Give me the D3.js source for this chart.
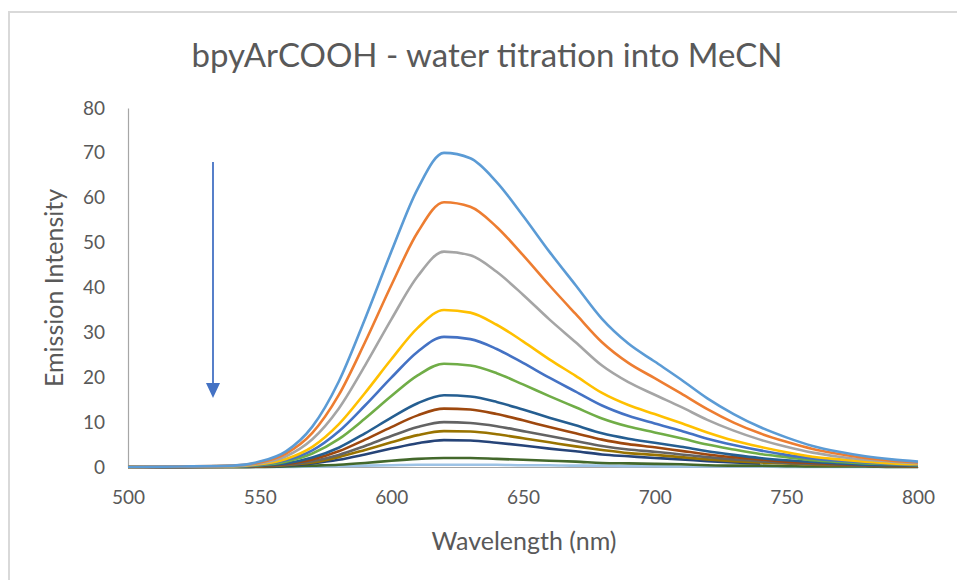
<!DOCTYPE html>
<html>
<head>
<meta charset="utf-8">
<script src="https://cdn.jsdelivr.net/npm/d3@7"></script>
<style>
  html, body { margin: 0; padding: 0; background: #fff; }
  svg { display: block; }
  text { font-family: Lato, "Open Sans", "Noto Sans", sans-serif; fill: #595959; }
</style>
</head>
<body>
<svg id="chart" width="957" height="580"></svg>
<script>
// Wavelength grid (nm) shared by all emission spectra
const wavelengths = [500, 520, 540, 550, 560, 570, 580, 590, 600, 610, 620, 630, 640, 650, 660,
  670, 680, 690, 700, 710, 720, 730, 740, 750, 760, 770, 780, 790, 800];

// Emission intensity of each titration point, first to last
const spec01 = [0, 0.1, 0.3, 1.2, 3.5, 9, 19, 33, 48, 62, 70, 68.8, 63.5, 56, 48, 40.5, 33, 27.5, 23.5, 19.5, 15.3, 11.8, 8.9, 6.6, 4.7, 3.4, 2.4, 1.7, 1.2];
const spec02 = [0, 0.1, 0.3, 1.0, 3.0, 7.6, 16, 27.8, 40.5, 52.3, 59, 58, 53.5, 47.2, 40.5, 34.1, 27.8, 23.2, 19.8, 16.4, 12.9, 9.9, 7.5, 5.6, 4.0, 2.9, 2.0, 1.4, 1.0];
const spec03 = [0, 0.1, 0.2, 0.8, 2.4, 6.2, 13, 22.6, 32.9, 42.5, 48, 47.2, 43.5, 38.4, 32.9, 27.8, 22.6, 18.9, 16.1, 13.4, 10.5, 8.1, 6.1, 4.5, 3.2, 2.3, 1.6, 1.2, 0.8];
const spec04 = [0, 0.1, 0.2, 0.6, 1.8, 4.5, 9.5, 16.5, 24, 31, 35, 34.4, 31.7, 28, 24, 20.3, 16.5, 13.8, 11.8, 9.8, 7.7, 5.9, 4.5, 3.3, 2.3, 1.7, 1.2, 0.8, 0.6];
const spec05 = [0, 0.1, 0.2, 0.5, 1.5, 3.7, 7.9, 13.7, 19.9, 25.7, 29, 28.5, 26.3, 23.2, 19.9, 16.8, 13.7, 11.4, 9.7, 8.1, 6.3, 4.9, 3.7, 2.7, 1.9, 1.4, 1.0, 0.7, 0.5];
const spec06 = [0, 0.1, 0.1, 0.4, 1.2, 3.0, 6.2, 10.8, 15.8, 20.4, 23, 22.6, 20.9, 18.4, 15.8, 13.3, 10.8, 9.0, 7.7, 6.4, 5.0, 3.9, 2.9, 2.2, 1.5, 1.1, 0.8, 0.6, 0.4];
const spec07 = [0, 0, 0.1, 0.3, 0.8, 2.1, 4.3, 7.5, 11, 14.2, 16, 15.7, 14.5, 12.8, 11.0, 9.3, 7.5, 6.3, 5.4, 4.5, 3.5, 2.7, 2.0, 1.5, 1.1, 0.8, 0.5, 0.4, 0.3];
const spec08 = [0, 0, 0.1, 0.2, 0.7, 1.7, 3.5, 6.1, 8.9, 11.5, 13, 12.8, 11.8, 10.4, 8.9, 7.5, 6.1, 5.1, 4.4, 3.6, 2.8, 2.2, 1.7, 1.2, 0.9, 0.6, 0.4, 0.3, 0.2];
const spec09 = [0, 0, 0.1, 0.2, 0.5, 1.3, 2.7, 4.7, 6.9, 8.9, 10, 9.8, 9.1, 8.0, 6.9, 5.8, 4.7, 3.9, 3.4, 2.8, 2.2, 1.7, 1.3, 0.9, 0.7, 0.5, 0.3, 0.2, 0.2];
const spec10 = [0, 0, 0, 0.1, 0.4, 1.0, 2.2, 3.8, 5.5, 7.1, 8, 7.9, 7.3, 6.4, 5.5, 4.6, 3.8, 3.1, 2.7, 2.2, 1.7, 1.3, 1.0, 0.8, 0.5, 0.4, 0.3, 0.2, 0.1];
const spec11 = [0, 0, 0, 0.1, 0.3, 0.8, 1.6, 2.8, 4.1, 5.3, 6, 5.9, 5.4, 4.8, 4.1, 3.5, 2.8, 2.4, 2.0, 1.7, 1.3, 1.0, 0.8];
const spec12 = [0, 0, 0, 0, 0.1, 0.3, 0.5, 0.9, 1.4, 1.8, 2.0, 2.0, 1.8, 1.6, 1.4, 1.2, 0.9, 0.8, 0.7, 0.6, 0.4, 0.3, 0.3, 0.2, 0.1, 0.1, 0.1, 0, 0];
const spec13 = [0, 0, 0, 0, 0, 0.1, 0.2, 0.3, 0.4, 0.5, 0.5, 0.5, 0.5, 0.4, 0.4, 0.3, 0.3, 0.2, 0.2, 0.1, 0.1, 0.1, 0.1, 0, 0, 0, 0, 0, 0];

const seriesValues = [spec01, spec02, spec03, spec04, spec05, spec06, spec07, spec08, spec09, spec10, spec11, spec12, spec13];
const seriesColors = ["#5B9BD5", "#ED7D31", "#A5A5A5", "#FFC000", "#4472C4", "#70AD47",
  "#255E91", "#9E480E", "#636363", "#997300", "#264478", "#43682B", "#9DC3E6"];

const xTicks = [500, 550, 600, 650, 700, 750, 800];
const yTicks = [0, 10, 20, 30, 40, 50, 60, 70, 80];

const titleText = "bpyArCOOH - water titration into MeCN";
const xTitle = "Wavelength (nm)";
const yTitle = "Emission Intensity";

const svg = d3.select("#chart");
const W = 957, H = 580;
const plot = { left: 128, right: 918, top: 108, bottom: 467 };
const fontStack = "Lato, 'Open Sans', sans-serif";

// Chart frame
svg.append("path")
  .attr("d", `M9,${H} V12 H${W}`)
  .attr("fill", "none")
  .attr("stroke", "#d9d9d9")
  .attr("stroke-width", 2);

const x = d3.scaleLinear().domain([500, 800]).range([plot.left, plot.right]);
const y = d3.scaleLinear().domain([0, 80]).range([plot.bottom, plot.top]);

// Title
svg.append("text")
  .attr("x", 487).attr("y", 67)
  .attr("text-anchor", "middle")
  .style("font-size", "33px")
  .text(titleText);

// Y axis (line + labels, no tick marks)
const yAxis = svg.append("g")
  .attr("transform", `translate(${plot.left},0)`)
  .call(d3.axisLeft(y).tickValues(yTicks).tickSize(0).tickPadding(23));
yAxis.select(".domain").attr("stroke", "#a6a6a6").attr("stroke-width", 1.2);
yAxis.selectAll("text").style("font-size", "19px").attr("fill", "#595959")
  .style("font-family", fontStack);

// X axis
const xAxis = svg.append("g")
  .attr("transform", `translate(0,${plot.bottom})`)
  .call(d3.axisBottom(x).tickValues(xTicks).tickSize(0).tickPadding(24));
xAxis.select(".domain").attr("stroke", "#a6a6a6").attr("stroke-width", 1.2);
xAxis.selectAll("text").style("font-size", "19px").attr("fill", "#595959")
  .style("font-family", fontStack);

// Axis titles
svg.append("text")
  .attr("x", 524).attr("y", 550)
  .attr("text-anchor", "middle")
  .style("font-size", "25px")
  .text(xTitle);
svg.append("text")
  .attr("transform", `translate(63,288) rotate(-90)`)
  .attr("text-anchor", "middle")
  .style("font-size", "25px")
  .text(yTitle);

// Spectra, drawn from the last (lowest) to the first so the strongest stays on top
const line = d3.line()
  .x((d, i) => x(wavelengths[i]))
  .y(d => y(d))
  .curve(d3.curveMonotoneX);

const order = d3.range(seriesValues.length).reverse();
svg.append("g")
  .selectAll("path")
  .data(order)
  .join("path")
  .attr("d", k => line(seriesValues[k]))
  .attr("fill", "none")
  .attr("stroke", k => seriesColors[k])
  .attr("stroke-width", 2.6)
  .attr("stroke-linejoin", "round");

// Arrow showing the direction of the titration
const arrowX = 213, arrowTop = 162, arrowTip = 398;
svg.append("line")
  .attr("x1", arrowX).attr("x2", arrowX)
  .attr("y1", arrowTop).attr("y2", arrowTip - 12)
  .attr("stroke", "#4472C4").attr("stroke-width", 1.8);
svg.append("path")
  .attr("d", `M${arrowX - 7},${arrowTip - 15} L${arrowX + 7},${arrowTip - 15} L${arrowX},${arrowTip} Z`)
  .attr("fill", "#4472C4");
</script>
</body>
</html>
